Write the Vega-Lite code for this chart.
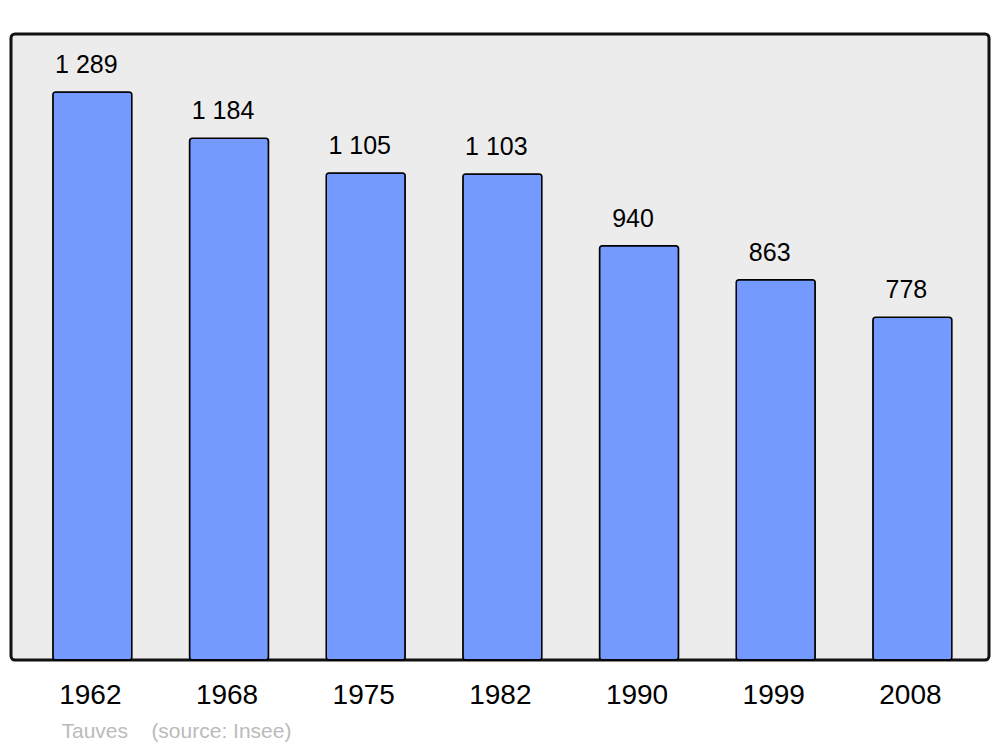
{
  "$schema": "https://vega.github.io/schema/vega-lite/v6.json",
  "width": 978,
  "height": 626,
  "autosize": {"type": "none"},
  "padding": {"left": 11, "top": 34, "right": 11, "bottom": 87},
  "background": "white",
  "config": {
    "font": "Liberation Sans",
    "view": {"fill": "#ececec", "stroke": "#111111", "strokeWidth": 3, "cornerRadius": 4}
  },
  "data": {
    "values": [
      {"year": "1962", "population": 1289, "label": "1 289"},
      {"year": "1968", "population": 1184, "label": "1 184"},
      {"year": "1975", "population": 1105, "label": "1 105"},
      {"year": "1982", "population": 1103, "label": "1 103"},
      {"year": "1990", "population": 940, "label": "940"},
      {"year": "1999", "population": 863, "label": "863"},
      {"year": "2008", "population": 778, "label": "778"}
    ]
  },
  "encoding": {
    "x": {
      "field": "year",
      "type": "ordinal",
      "sort": null,
      "scale": {"paddingInner": 0.422, "paddingOuter": 0.289, "align": 0.53},
      "axis": {
        "title": "Tauves\u00a0\u00a0\u00a0\u00a0(source: Insee)",
        "titleAnchor": null,
        "titleAlign": "left",
        "titleBaseline": "alphabetic",
        "titleX": 50,
        "titleY": 77,
        "titleFontSize": 21,
        "titleFontWeight": "normal",
        "titleColor": "#bbbbbb",
        "titleFont": "Liberation Sans",
        "domain": false,
        "ticks": false,
        "labelAngle": 0,
        "labelFontSize": 28,
        "labelColor": "#000000",
        "labelPadding": 21,
        "labelOffset": -2,
        "labelFont": "Liberation Sans"
      }
    },
    "y": {
      "field": "population",
      "type": "quantitative",
      "scale": {"domain": [0, 1420.5], "nice": false},
      "axis": null
    }
  },
  "layer": [
    {
      "mark": {"type": "bar", "color": "#7499ff", "stroke": "#000000", "strokeWidth": 1.5, "cornerRadius": 3}
    },
    {
      "mark": {"type": "text", "baseline": "bottom", "dy": -14, "dx": -6, "fontSize": 25, "color": "#000000", "font": "Liberation Sans"},
      "encoding": {"text": {"field": "label"}}
    }
  ]
}
